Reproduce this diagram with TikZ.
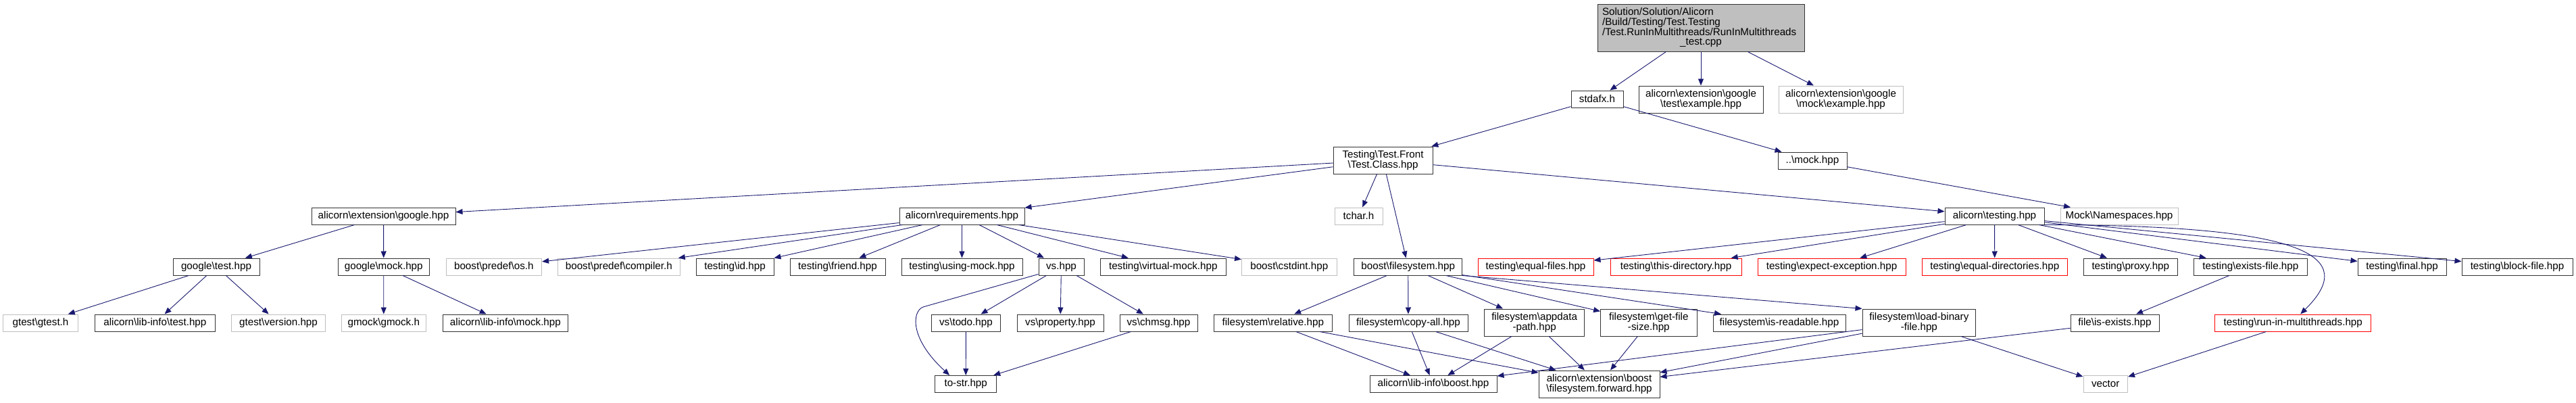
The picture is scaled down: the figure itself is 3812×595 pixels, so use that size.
\documentclass[tikz,border=0pt]{standalone}
\usepackage{fontspec}
\setmainfont{Liberation Sans}
\usetikzlibrary{arrows.meta,calc}
\definecolor{edgeblue}{HTML}{191970}
\definecolor{extgray}{HTML}{BFBFBF}
\definecolor{errred}{HTML}{FF0000}
\newcommand{\bksl}{\textbackslash}
\tikzset{
  nbox/.style={draw, line width=1pt, fill=white, inner sep=0pt, minimum height=25pt,
    align=center, font=\fontsize{15.2}{15}\selectfont},
  docnode/.style={nbox, draw=black!80},
  extnode/.style={nbox, draw=extgray},
  errnode/.style={nbox, draw=errred},
  rootnode/.style={nbox, draw=black!80, fill=extgray},
  tall/.style={minimum height=40pt},
  dep/.style={draw=edgeblue, line width=0.9pt, -{Triangle[length=10pt,width=8pt,fill=edgeblue]}}
}
\begin{document}
\begin{tikzpicture}[x=1pt,y=-1pt]
\useasboundingbox[fill=white] (0,0) rectangle (3812,595);
% row 0-2
\node[rootnode, minimum width=306pt, minimum height=70pt, text width=292pt, align=left,
  font=\fontsize{15.2}{14.7}\selectfont] (root) at (2517,41)
  {Solution/Solution/Alicorn\\/Build/Testing/Test.Testing\\/Test.RunInMultithreads/RunInMultithreads\\\makebox[292pt]{\_test.cpp}};
\node[docnode, minimum width=77pt] (stdafx) at (2363.5,146.5) {stdafx.h};
\node[docnode, tall, minimum width=184pt] (gtestex) at (2517,147) {alicorn\bksl extension\bksl google\\\bksl test\bksl example.hpp};
\node[extnode, tall, minimum width=184pt] (gmockex) at (2724,147) {alicorn\bksl extension\bksl google\\\bksl mock\bksl example.hpp};
\node[docnode, tall, minimum width=147pt] (tclass) at (2046.5,237) {Testing\bksl Test.Front\\\bksl Test.Class.hpp};
\node[docnode, minimum width=102pt] (mockhpp) at (2682,237.5) {..\bksl mock.hpp};
% row 1
\node[docnode, minimum width=213pt] (google) at (567.5,319.5) {alicorn\bksl extension\bksl google.hpp};
\node[docnode, minimum width=185pt] (req) at (1423.5,319.5) {alicorn\bksl requirements.hpp};
\node[extnode, minimum width=71pt] (tchar) at (2010.5,319.5) {tchar.h};
\node[docnode, minimum width=147pt] (testing) at (2951.5,319.5) {alicorn\bksl testing.hpp};
\node[extnode, minimum width=174pt] (ns) at (3136,319.5) {Mock\bksl Namespaces.hpp};
% row 2
\node[docnode, minimum width=128pt] (gtest) at (320,394.5) {google\bksl test.hpp};
\node[docnode, minimum width=135.5pt] (gmock) at (567.75,394.5) {google\bksl mock.hpp};
\node[extnode, minimum width=141.6pt] (os) at (730.8,394.5) {boost\bksl predef\bksl os.h};
\node[extnode, minimum width=180.3pt] (compiler) at (915.85,394.5) {boost\bksl predef\bksl compiler.h};
\node[docnode, minimum width=115pt] (id) at (1087.5,394.5) {testing\bksl id.hpp};
\node[docnode, minimum width=141pt] (friend) at (1239.5,394.5) {testing\bksl friend.hpp};
\node[docnode, minimum width=179pt] (usingmock) at (1423.5,394.5) {testing\bksl using-mock.hpp};
\node[docnode, minimum width=67pt] (vs) at (1570.5,394.5) {vs.hpp};
\node[docnode, minimum width=185.4pt] (virtualmock) at (1721.3,394.5) {testing\bksl virtual-mock.hpp};
\node[extnode, minimum width=140.5pt] (cstdint) at (1907.75,394.5) {boost\bksl cstdint.hpp};
\node[docnode, minimum width=160pt] (bfs) at (2083.7,394.5) {boost\bksl filesystem.hpp};
\node[errnode, minimum width=171pt] (eqfiles) at (2272.5,394.5) {testing\bksl equal-files.hpp};
\node[errnode, minimum width=194pt] (thisdir) at (2480,394.5) {testing\bksl this-directory.hpp};
\node[errnode, minimum width=219pt] (expexc) at (2710.5,394.5) {testing\bksl expect-exception.hpp};
\node[errnode, minimum width=214.5pt] (eqdirs) at (2951.75,394.5) {testing\bksl equal-directories.hpp};
\node[docnode, minimum width=139.6pt] (proxy) at (3152.8,394.5) {testing\bksl proxy.hpp};
\node[docnode, minimum width=167.3pt] (existsfile) at (3330.35,394.5) {testing\bksl exists-file.hpp};
\node[docnode, minimum width=131pt] (final) at (3554.5,394.5) {testing\bksl final.hpp};
\node[docnode, minimum width=164pt] (blockfile) at (3725,394.5) {testing\bksl block-file.hpp};
% row 3
\node[extnode, minimum width=111pt] (gtesth) at (60,477.5) {gtest\bksl gtest.h};
\node[docnode, minimum width=178.7pt] (libtest) at (229.35,477.5) {alicorn\bksl lib-info\bksl test.hpp};
\node[extnode, minimum width=139.2pt] (gversion) at (412,477.5) {gtest\bksl version.hpp};
\node[extnode, minimum width=125.6pt] (gmockh) at (567.8,477.5) {gmock\bksl gmock.h};
\node[docnode, minimum width=185.8pt] (libmock) at (747.9,477.5) {alicorn\bksl lib-info\bksl mock.hpp};
\node[docnode, minimum width=102.8pt] (todo) at (1429.4,477.5) {vs\bksl todo.hpp};
\node[docnode, minimum width=128pt] (property) at (1569,477.5) {vs\bksl property.hpp};
\node[docnode, minimum width=115pt] (chmsg) at (1714.5,477.5) {vs\bksl chmsg.hpp};
\node[docnode, minimum width=174.4pt] (relative) at (1883.8,477.5) {filesystem\bksl relative.hpp};
\node[docnode, minimum width=176pt] (copyall) at (2084,477.5) {filesystem\bksl copy-all.hpp};
\node[docnode, tall, minimum width=147.8pt] (appdata) at (2270.6,477) {filesystem\bksl appdata\\-path.hpp};
\node[docnode, tall, minimum width=142.4pt] (getsize) at (2439.8,477) {filesystem\bksl get-file\\-size.hpp};
\node[docnode, minimum width=196pt] (readable) at (2633,477.5) {filesystem\bksl is-readable.hpp};
\node[docnode, tall, minimum width=167.7pt] (loadbin) at (2839.85,477) {filesystem\bksl load-binary\\-file.hpp};
\node[docnode, minimum width=131pt] (isexists) at (3129.5,477.5) {file\bksl is-exists.hpp};
\node[errnode, minimum width=231pt] (runmt) at (3393.2,477.5) {testing\bksl run-in-multithreads.hpp};
% row 4
\node[docnode, minimum width=91pt] (tostr) at (1429.2,568) {to-str.hpp};
\node[docnode, minimum width=188pt] (libboost) at (2121,568) {alicorn\bksl lib-info\bksl boost.hpp};
\node[docnode, tall, minimum width=179pt] (fsfwd) at (2366.5,568) {alicorn\bksl extension\bksl boost\\\bksl filesystem.forward.hpp};
\node[extnode, minimum width=65.5pt] (vector) at (3115.75,568) {vector};
% edges
\draw[dep] (root) -- (stdafx);
\draw[dep] (root) -- (gtestex);
\draw[dep] (root) -- (gmockex);
\draw[dep] (stdafx) -- (tclass);
\draw[dep] (stdafx) -- (mockhpp);
\draw[dep] (mockhpp) -- (ns);
\draw[dep] (tclass) -- (google);
\draw[dep] (tclass) -- (req);
\draw[dep] (tclass) -- (tchar);
\draw[dep] (tclass) -- (bfs);
\draw[dep] (tclass) -- (testing);
\draw[dep] (google) -- (gtest);
\draw[dep] (google) -- (gmock);
\draw[dep] (gtest) -- (gtesth);
\draw[dep] (gtest) -- (libtest);
\draw[dep] (gtest) -- (gversion);
\draw[dep] (gmock) -- (gmockh);
\draw[dep] (gmock) -- (libmock);
\draw[dep] (req) -- (os);
\draw[dep] (req) -- (compiler);
\draw[dep] (req) -- (id);
\draw[dep] (req) -- (friend);
\draw[dep] (req) -- (usingmock);
\draw[dep] (req) -- (vs);
\draw[dep] (req) -- (virtualmock);
\draw[dep] (req) -- (cstdint);
\draw[dep] (vs) -- (todo);
\draw[dep] (vs) -- (property);
\draw[dep] (vs) -- (chmsg);
\draw[dep] ($(vs.south west)+(0,-2)$) -- (1366,454) .. controls (1350,460) and (1345,500) .. ($(tostr.north west)+(22,0)$);
\draw[dep] (todo) -- (tostr);
\draw[dep] (chmsg) -- (tostr);
\draw[dep] (bfs) -- (relative);
\draw[dep] (bfs) -- (copyall);
\draw[dep] (bfs) -- (appdata);
\draw[dep] (bfs) -- (getsize);
\draw[dep] (bfs) -- (readable);
\draw[dep] (bfs.south east) -- (loadbin.north west);
\draw[dep] (relative) -- (libboost);
\draw[dep] (relative) -- (fsfwd);
\draw[dep] (copyall) -- (libboost);
\draw[dep] (copyall) -- (fsfwd);
\draw[dep] (appdata) -- (libboost);
\draw[dep] (appdata) -- (fsfwd);
\draw[dep] (getsize) -- (fsfwd);
\draw[dep] (loadbin) -- (libboost);
\draw[dep] (loadbin) -- (fsfwd);
\draw[dep] (loadbin) -- (vector);
\draw[dep] (isexists) -- (fsfwd);
\draw[dep] (runmt) -- (vector);
\draw[dep] (testing) -- (eqfiles);
\draw[dep] (testing) -- (thisdir);
\draw[dep] (testing) -- (expexc);
\draw[dep] (testing) -- (eqdirs);
\draw[dep] (testing) -- (proxy);
\draw[dep] (testing) -- (existsfile);
\draw[dep] (testing) -- (final);
\draw[dep] (testing) -- (blockfile);
\draw[dep] (testing.south east) .. controls (3420,333) and (3490,380) .. ($(runmt.north)+(11,0)$);
\draw[dep] (existsfile) -- (isexists);
\end{tikzpicture}
\end{document}
